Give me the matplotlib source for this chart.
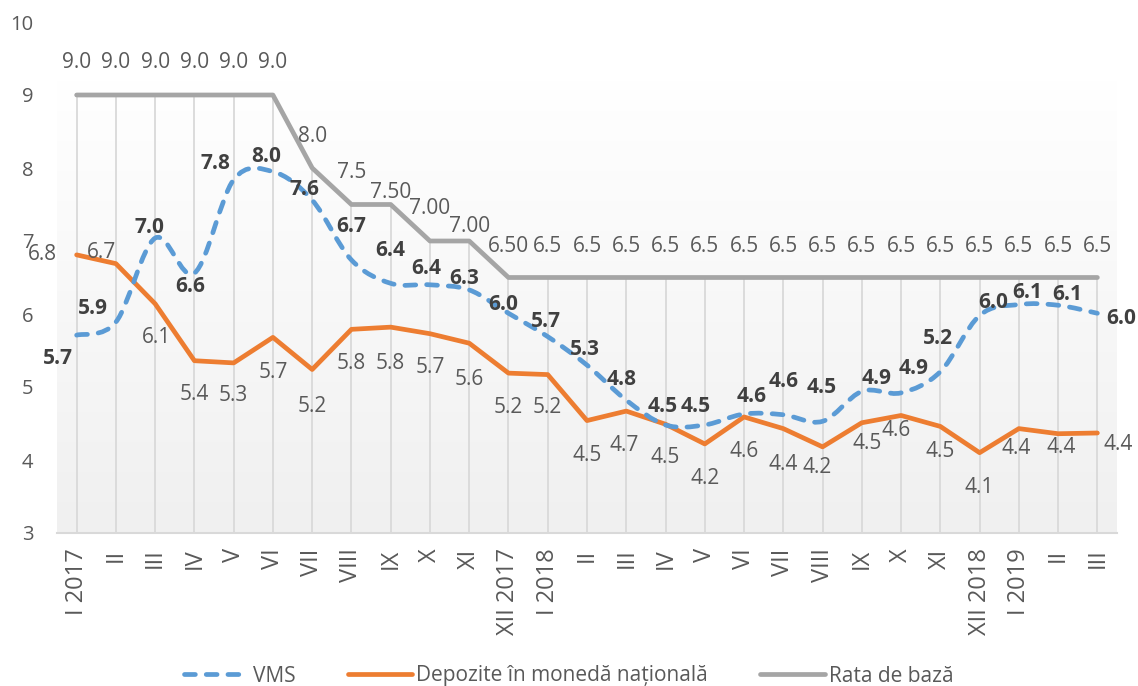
import matplotlib
matplotlib.use("Agg")
import matplotlib.pyplot as plt
import numpy as np
from matplotlib.path import Path
from matplotlib.patches import PathPatch
from matplotlib.lines import Line2D
from matplotlib.colors import LinearSegmentedColormap

plt.rcParams['font.family'] = ['Open Sans', 'DejaVu Sans']

# ---------------- data ----------------
categories = ["I 2017", "II", "III", "IV", "V", "VI", "VII", "VIII", "IX", "X", "XI",
              "XII 2017", "I 2018", "II", "III", "IV", "V", "VI", "VII", "VIII", "IX",
              "X", "XI", "XII 2018", "I 2019", "II", "III"]

vms = [5.71, 5.89, 7.04, 6.56, 7.84, 7.95, 7.56, 6.74, 6.42, 6.40, 6.33, 6.01, 5.69,
       5.30, 4.82, 4.48, 4.48, 4.63, 4.62, 4.53, 4.94, 4.92, 5.21, 5.98, 6.13, 6.12, 6.01]

depozite = [6.81, 6.69, 6.14, 5.36, 5.33, 5.68, 5.24, 5.79, 5.82, 5.73, 5.60, 5.19, 5.17,
            4.54, 4.67, 4.49, 4.22, 4.59, 4.43, 4.18, 4.51, 4.61, 4.46, 4.10, 4.43, 4.36, 4.37]

rata = [9.0, 9.0, 9.0, 9.0, 9.0, 9.0, 8.0, 7.5, 7.5, 7.0, 7.0, 6.5, 6.5, 6.5, 6.5, 6.5,
        6.5, 6.5, 6.5, 6.5, 6.5, 6.5, 6.5, 6.5, 6.5, 6.5, 6.5]

rata_labels = ["9.0"] * 6 + ["8.0", "7.5", "7.50", "7.00", "7.00", "6.50"] + ["6.5"] * 15

series_names = ["VMS", "Depozite în monedă națională", "Rata de bază"]

# ---------------- label layout (pixel offsets) ----------------
rata_off = [(0, 32)] * 8 + [(0, 12), (0, 32), (0, 15)] + [(0, 31)] * 16

vms_off = [(-19, -23), (-23, 14), (-6, 11), (-4, -13), (-18, 16), (-7, 15), (-8, 11),
           (0, 33), (0, 33), (-4, 16), (-5, 11), (-5, 9), (-2, 15), (-2, 16), (-5, 21),
           (-3, 18), (-9, 18), (8, 18), (0, 33), (-1, 34), (15, 13), (13, 24), (-2, 33),
           (14, 13), (8, 12), (9, 11), (24, -5)]

dep_off = [(-34, 0), (-14, 11), (1, -34), (0, -34), (0, -33), (0, -35), (0, -37),
           (0, -34), (0, -36), (0, -34), (0, -36), (0, -34), (0, -33), (0, -35),
           (-2, -34), (0, -33), (0, -35), (0, -35), (0, -36), (-5, -21), (5, -21),
           (-5, -15), (0, -25), (0, -35), (-3, -20), (3, -14), (21, -12)]

c_vms = "#5B9BD5"
c_dep = "#ED7D31"
c_rata = "#A5A5A5"
c_text = "#595959"
c_bold = "#404040"

W, H = 1138, 686
fig = plt.figure(figsize=(W / 100, H / 100), dpi=100)
ax = fig.add_axes([57 / W, 1 - 533 / H, (1117 - 57) / W, (533 - 22) / H])

x = np.arange(len(categories))
ax.set_xlim(-0.5, len(categories) - 0.5)
ax.set_ylim(3, 10)

# gradient background
cmap = LinearSegmentedColormap.from_list("bg", ["#F0F0F0", "#FFFFFF"])
grad = np.linspace(0, 1, 256).reshape(-1, 1)
ax.imshow(grad, extent=(-0.5, len(categories) - 0.5, 3, 9.2), origin="lower",
          cmap=cmap, aspect="auto", zorder=0)

# drop lines
tops = np.maximum.reduce([np.array(vms), np.array(depozite), np.array(rata)])
ax.vlines(x, 3, tops, color="#D9D9D9", lw=1.3, zorder=1)

lw = 3.4
ax.plot(x, rata, color=c_rata, lw=lw, solid_capstyle="round", solid_joinstyle="round", zorder=3)
ax.plot(x, depozite, color=c_dep, lw=lw, solid_capstyle="round", solid_joinstyle="round", zorder=4)

# smoothed VMS line (Bezier through data points)
pts = np.column_stack([x, vms]).astype(float)
verts = [tuple(pts[0])]
codes = [Path.MOVETO]
n = len(pts)
for i in range(n - 1):
    p0 = pts[i - 1] if i > 0 else pts[i]
    p1 = pts[i]
    p2 = pts[i + 1]
    p3 = pts[i + 2] if i + 2 < n else pts[i + 1]
    c1 = p1 + (p2 - p0) / 6.0
    c2 = p2 - (p3 - p1) / 6.0
    verts += [tuple(c1), tuple(c2), tuple(p2)]
    codes += [Path.CURVE4] * 3
patch = PathPatch(Path(verts, codes), facecolor="none", edgecolor=c_vms, lw=lw,
                  linestyle=(0, (2.3, 2.3)), capstyle="round", zorder=5)
ax.add_patch(patch)

# data labels
for i in range(len(categories)):
    ax.annotate(rata_labels[i], (x[i], rata[i]), xytext=rata_off[i], textcoords="offset pixels",
                ha="center", va="center", fontsize=15, color=c_text, zorder=6)
    ax.annotate(f"{depozite[i]:.1f}", (x[i], depozite[i]), xytext=dep_off[i],
                textcoords="offset pixels", ha="center", va="center", fontsize=15,
                color=c_text, zorder=6)
    ax.annotate(f"{vms[i]:.1f}", (x[i], vms[i]), xytext=vms_off[i], textcoords="offset pixels",
                ha="center", va="center", fontsize=15, fontweight="bold", color=c_bold, zorder=7)

# axes styling
for s in ["left", "right", "top"]:
    ax.spines[s].set_visible(False)
ax.spines["bottom"].set_color("#D9D9D9")
ax.spines["bottom"].set_linewidth(1.5)
ax.set_xticks(x)
ax.set_xticklabels(categories, rotation=90, fontsize=17, color=c_text)
ax.set_yticks(range(3, 11))
ax.set_yticklabels([str(v) for v in range(3, 11)], fontsize=14.5, color=c_text)
ax.tick_params(axis="x", length=0, pad=11)
ax.tick_params(axis="y", length=0, pad=17)
for t in ax.get_yticklabels():
    t.set_ha("right")

# legend
handles = [Line2D([], [], color=c_vms, lw=lw, linestyle=(0, (2.3, 2.3)), dash_capstyle="round"),
           Line2D([], [], color=c_dep, lw=lw, solid_capstyle="round"),
           Line2D([], [], color=c_rata, lw=lw, solid_capstyle="round")]
fig.legend(handles, series_names, loc="center", bbox_to_anchor=(0.5, 1 - 676 / H), ncol=3,
           frameon=False, fontsize=15, handlelength=3.1, columnspacing=2.5, handletextpad=0.2,
           labelcolor=c_text)

fig.savefig("out.png", dpi=100)
